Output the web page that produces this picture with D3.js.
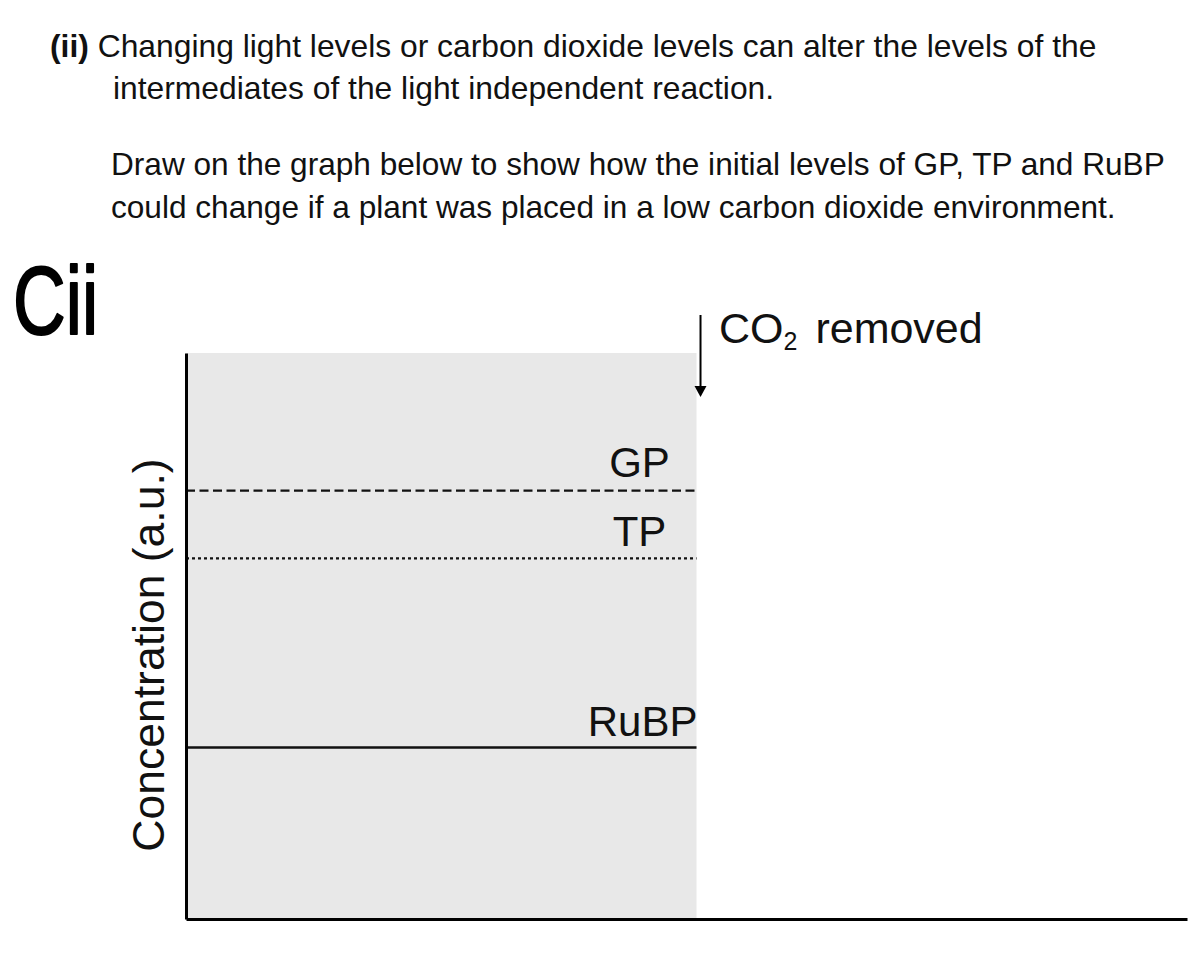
<!DOCTYPE html>
<html>
<head>
<meta charset="utf-8">
<script src="https://cdn.jsdelivr.net/npm/d3@7"></script>
<style>
  html, body { margin: 0; padding: 0; background: #ffffff; }
  svg { display: block; }
  text { font-family: "Liberation Sans", Arial, sans-serif; fill: #111; }
</style>
</head>
<body>
<script>
// ---- data ----
const questionLines = [
  "Changing light levels or carbon dioxide levels can alter the levels of the",
  "intermediates of the light independent reaction."
];
const instructionLines = [
  "Draw on the graph below to show how the initial levels of GP, TP and RuBP",
  "could change if a plant was placed in a low carbon dioxide environment."
];
const seriesNames = ["GP", "TP", "RuBP"];
const seriesLevels = [0.757, 0.637, 0.303];   // concentration (a.u.) before CO2 removal
const seriesDash = ["9,4.5", "3,3", null];
const timeDomain = [0, 10];
const co2RemovedAt = 5.1;
const yLabel = "Concentration (a.u.)";

// ---- layout ----
const W = 1198, H = 959;
const svg = d3.select("body").append("svg").attr("width", W).attr("height", H);

const x = d3.scaleLinear().domain(timeDomain).range([186, 1187]);
const y = d3.scaleLinear().domain([0, 1]).range([919, 353]);

// header texts
const FS = 31.8;
const t1 = svg.append("text").attr("x", 50).attr("y", 57).attr("font-size", FS);
t1.append("tspan").attr("font-weight", "bold").text("(ii) ");
t1.append("tspan").text(questionLines[0]);
svg.append("text").attr("x", 113).attr("y", 99).attr("font-size", FS).text(questionLines[1]);
instructionLines.forEach((l, i) => {
  svg.append("text").attr("x", 111).attr("y", 175 + i * 43).attr("font-size", 31.6).text(l);
});

// handwritten mark
svg.append("text").attr("transform", "translate(13,334) scale(0.76,1)")
  .attr("font-size", 96).attr("font-family", "DejaVu Sans")
  .style("fill", "#000").style("stroke", "#000").style("stroke-width", 2)
  .style("stroke-linejoin", "round").text("Cii");

// grey shaded region before CO2 removal
svg.append("rect")
  .attr("x", x(timeDomain[0])).attr("y", y(1))
  .attr("width", x(co2RemovedAt) - x(timeDomain[0]))
  .attr("height", y(0) - y(1))
  .attr("fill", "#e8e8e8");

// series lines
seriesNames.forEach((name, i) => {
  const line = d3.line().x(d => x(d[0])).y(d => y(d[1]));
  svg.append("path")
    .datum([[timeDomain[0], seriesLevels[i]], [co2RemovedAt, seriesLevels[i]]])
    .attr("d", line)
    .attr("fill", "none").attr("stroke", "#111")
    .attr("stroke-width", i === 2 ? 2.5 : 2.2)
    .attr("stroke-dasharray", seriesDash[i]);
});

// series labels
const LF = 42;
const labelText = svg.append("g");
labelText.append("text").attr("x", x(co2RemovedAt) - 57).attr("y", y(seriesLevels[0]) - 14)
  .attr("text-anchor", "middle").attr("font-size", LF).text(seriesNames[0]);
labelText.append("text").attr("x", x(co2RemovedAt) - 57).attr("y", y(seriesLevels[1]) - 12)
  .attr("text-anchor", "middle").attr("font-size", LF).text(seriesNames[1]);
labelText.append("text").attr("x", x(co2RemovedAt) + 1).attr("y", y(seriesLevels[2]) - 12)
  .attr("text-anchor", "end").attr("font-size", LF).text(seriesNames[2]);

// axes (no ticks)
const yAxis = d3.axisLeft(y).tickValues([]).tickSizeOuter(0);
svg.append("g").attr("transform", `translate(${x(timeDomain[0])},0)`).call(yAxis)
  .select(".domain").attr("stroke", "#000").attr("stroke-width", 3);
const xAxis = d3.axisBottom(x).tickValues([]).tickSizeOuter(0);
svg.append("g").attr("transform", `translate(0,${y(0)})`).call(xAxis)
  .select(".domain").attr("stroke", "#000").attr("stroke-width", 3);

// y label
svg.append("text")
  .attr("transform", `translate(164,655) rotate(-90)`)
  .attr("text-anchor", "middle").attr("font-size", 44.5).text(yLabel);

// CO2 removed arrow
const ax = x(co2RemovedAt) + 4;
svg.append("line").attr("x1", ax).attr("x2", ax).attr("y1", 315).attr("y2", 388)
  .attr("stroke", "#000").attr("stroke-width", 2);
svg.append("path").attr("d", `M${ax - 6},386 L${ax + 6},386 L${ax},397 Z`).attr("fill", "#000");

const co2 = svg.append("text").attr("x", 719).attr("y", 343).attr("font-size", 43);
co2.append("tspan").text("CO");
co2.append("tspan").attr("font-size", 25).attr("dy", 7).text("2");
co2.append("tspan").attr("dy", -7).attr("dx", 18).text("removed");
</script>
</body>
</html>
